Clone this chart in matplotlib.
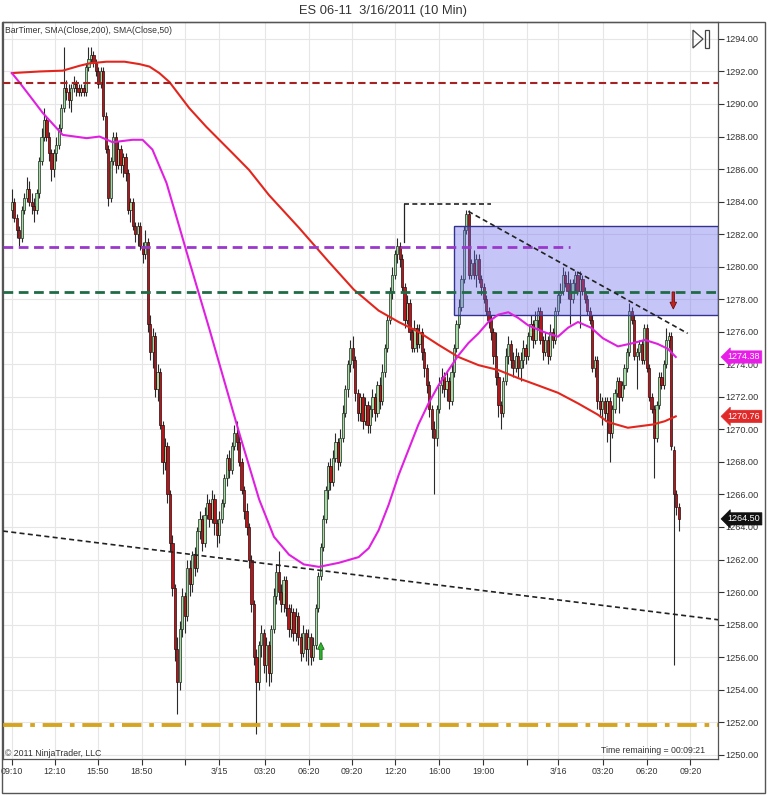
import matplotlib
matplotlib.use('Agg')
import matplotlib.pyplot as plt
import matplotlib.transforms as mtransforms
from matplotlib.patches import Rectangle, FancyArrow, Polygon
import numpy as np

plt.rcParams['font.family'] = ['Liberation Sans', 'DejaVu Sans']

# ---------------- data (10-minute bars, ES 06-11) ----------------
opens = [
    1283.5, 1284.0, 1283.0, 1282.25, 1281.75, 1283.5, 1284.25, 1284.75, 1284.0, 1283.75,
    1283.5, 1284.5, 1286.5, 1288.0, 1289.0, 1288.0, 1287.0, 1286.0, 1287.0, 1287.5,
    1288.5, 1289.75, 1291.0, 1290.75, 1290.25, 1291.0, 1291.25, 1291.0, 1290.75, 1291.0,
    1290.75, 1292.25, 1292.75, 1293.0, 1292.5, 1292.0, 1291.25, 1292.0, 1289.25, 1287.25,
    1284.25, 1286.5, 1288.0, 1286.25, 1287.25, 1286.25, 1286.75, 1285.75, 1283.5, 1284.0,
    1282.5, 1282.0, 1282.5, 1281.25, 1280.75, 1281.5, 1276.5, 1274.75, 1275.75, 1272.5,
    1273.5, 1270.25, 1268.0, 1269.0, 1266.0, 1263.0, 1260.25, 1256.5, 1254.5, 1257.75,
    1259.75, 1258.5, 1261.5, 1260.5, 1262.25, 1261.5, 1263.75, 1264.5, 1263.0, 1264.75,
    1265.5, 1264.5, 1265.75, 1264.25, 1263.5, 1264.5, 1265.5, 1267.0, 1268.25, 1267.5,
    1269.0, 1269.75, 1269.25, 1268.0, 1266.25, 1265.0, 1264.0, 1262.0, 1259.25, 1256.0,
    1254.5, 1256.75, 1257.5, 1255.5, 1256.75, 1255.0, 1257.75, 1259.75, 1261.25, 1260.0,
    1259.25, 1260.75, 1259.0, 1257.75, 1258.75, 1257.5, 1258.5, 1257.25, 1256.25, 1257.5,
    1256.5, 1257.25, 1256.0, 1256.75, 1259.0, 1261.0, 1262.75, 1264.5, 1266.25, 1267.75,
    1266.75, 1268.25, 1269.25, 1268.0, 1269.5, 1271.0, 1272.5, 1274.0, 1275.0, 1274.25,
    1272.25, 1271.0, 1272.0, 1270.5, 1271.5, 1270.25, 1271.25, 1272.0, 1271.0, 1272.75,
    1271.75, 1273.5, 1275.0, 1276.75, 1278.5, 1279.5, 1280.75, 1281.25, 1280.5, 1278.75,
    1276.75, 1277.75, 1276.0, 1275.0, 1276.25, 1275.25, 1276.0, 1274.75, 1273.75, 1272.75,
    1271.25, 1270.0, 1269.5, 1271.25, 1272.75, 1273.25, 1272.5, 1273.0, 1271.75, 1273.5,
    1275.0, 1276.5, 1277.5, 1279.25, 1282.25, 1283.25, 1279.5, 1280.25, 1279.5, 1280.5,
    1279.25, 1278.75, 1278.0, 1277.25, 1276.75, 1276.0, 1274.5, 1273.25, 1271.5, 1271.0,
    1273.0, 1274.5, 1275.25, 1274.25, 1273.75, 1274.5, 1273.75, 1274.25, 1275.0, 1274.5,
    1275.75, 1276.5, 1275.5, 1276.75, 1277.25, 1275.5, 1274.75, 1275.5, 1274.5, 1276.0,
    1275.5, 1277.25, 1278.25, 1278.5, 1279.5, 1279.0, 1278.5, 1278.0, 1279.0, 1279.5,
    1278.5, 1279.25, 1278.5, 1278.0, 1277.25, 1276.75, 1273.75, 1274.25, 1271.75, 1271.25,
    1271.75, 1271.0, 1271.75, 1269.75, 1271.25, 1272.25, 1273.0, 1272.0, 1272.75, 1273.75,
    1274.75, 1277.25, 1276.75, 1274.5, 1274.75, 1275.25, 1274.25, 1276.25, 1273.75, 1272.0,
    1271.25, 1269.5, 1271.5, 1273.25, 1272.75, 1274.0, 1275.5, 1275.75, 1268.75, 1266.0,
    1265.25]

highs = [
    1284.75, 1284.25, 1283.25, 1282.5, 1283.75, 1284.5, 1285.5, 1285.25, 1284.5, 1284.25,
    1284.75, 1286.75, 1288.5, 1289.75, 1289.25, 1288.25, 1287.25, 1287.25, 1288.0, 1288.75,
    1290.0, 1293.5, 1291.5, 1291.25, 1291.25, 1291.75, 1291.5, 1291.25, 1291.25, 1291.25,
    1292.5, 1293.5, 1293.5, 1293.25, 1292.75, 1292.25, 1292.25, 1292.25, 1289.5, 1287.5,
    1286.75, 1288.25, 1288.25, 1287.75, 1287.5, 1287.0, 1287.0, 1286.0, 1284.25, 1284.25,
    1282.75, 1282.75, 1282.75, 1281.5, 1282.25, 1281.75, 1277.0, 1276.25, 1276.0, 1274.0,
    1273.75, 1270.5, 1269.5, 1269.25, 1266.25, 1263.5, 1260.5, 1257.25, 1258.25, 1260.25,
    1260.0, 1262.0, 1262.0, 1262.5, 1262.75, 1264.0, 1265.0, 1264.75, 1265.25, 1266.0,
    1265.75, 1266.25, 1266.0, 1264.5, 1265.0, 1265.75, 1267.25, 1268.5, 1268.75, 1269.25,
    1270.25, 1270.5, 1269.75, 1268.25, 1266.5, 1265.5, 1264.25, 1262.25, 1259.5, 1256.5,
    1257.0, 1258.0, 1257.75, 1257.25, 1257.0, 1258.0, 1260.25, 1261.75, 1262.5, 1260.5,
    1261.0, 1261.0, 1259.25, 1259.25, 1259.0, 1259.0, 1258.75, 1257.5, 1258.0, 1257.75,
    1257.75, 1257.5, 1257.25, 1259.25, 1261.25, 1263.0, 1264.75, 1266.5, 1268.0, 1268.25,
    1268.75, 1269.75, 1269.5, 1270.0, 1271.5, 1272.75, 1274.25, 1275.5, 1275.75, 1274.5,
    1272.5, 1272.25, 1272.25, 1272.0, 1271.75, 1271.5, 1272.5, 1272.25, 1273.0, 1273.25,
    1274.0, 1275.25, 1277.0, 1278.75, 1280.0, 1281.0, 1281.75, 1281.5, 1280.75, 1279.0,
    1278.25, 1278.0, 1276.25, 1276.75, 1276.5, 1276.5, 1276.25, 1275.0, 1274.0, 1273.0,
    1271.5, 1270.5, 1271.5, 1273.25, 1273.75, 1273.5, 1273.5, 1273.25, 1274.0, 1275.25,
    1276.75, 1278.0, 1279.5, 1282.5, 1283.5, 1283.5, 1280.5, 1281.0, 1280.75, 1280.75,
    1279.5, 1279.0, 1278.25, 1277.5, 1277.0, 1276.25, 1276.0, 1273.5, 1271.75, 1273.25,
    1275.0, 1275.75, 1275.5, 1274.75, 1275.0, 1274.75, 1274.75, 1275.5, 1275.25, 1276.0,
    1277.0, 1276.75, 1277.25, 1277.5, 1277.5, 1275.75, 1276.0, 1275.75, 1276.5, 1276.25,
    1277.5, 1278.5, 1279.0, 1280.0, 1279.75, 1279.75, 1279.25, 1279.25, 1279.75, 1279.75,
    1279.75, 1279.5, 1278.75, 1278.25, 1277.5, 1277.0, 1274.5, 1274.5, 1272.25, 1272.0,
    1272.0, 1272.0, 1272.0, 1271.5, 1272.5, 1273.25, 1273.25, 1273.0, 1274.0, 1275.0,
    1277.75, 1277.5, 1277.0, 1275.0, 1275.5, 1275.5, 1276.5, 1276.5, 1274.0, 1272.25,
    1271.5, 1271.75, 1273.5, 1273.5, 1274.25, 1276.25, 1276.0, 1276.0, 1269.0, 1266.25,
    1265.5]

lows = [
    1283.0, 1282.75, 1281.75, 1281.25, 1281.5, 1283.25, 1284.0, 1283.75, 1283.25, 1282.75,
    1283.25, 1284.25, 1286.25, 1287.75, 1287.75, 1286.5, 1285.25, 1285.5, 1286.5, 1287.25,
    1288.25, 1289.5, 1290.25, 1289.75, 1289.5, 1290.75, 1290.5, 1290.5, 1290.5, 1290.5,
    1290.5, 1292.0, 1292.5, 1292.25, 1291.75, 1291.0, 1291.0, 1289.0, 1287.0, 1283.75,
    1284.0, 1286.25, 1285.75, 1286.0, 1285.75, 1285.5, 1285.25, 1283.25, 1282.75, 1282.25,
    1281.5, 1281.25, 1281.0, 1280.25, 1280.5, 1276.0, 1274.25, 1273.75, 1272.0, 1271.75,
    1270.0, 1267.25, 1267.5, 1265.5, 1262.5, 1259.75, 1255.75, 1252.5, 1254.0, 1257.25,
    1257.5, 1258.25, 1259.75, 1260.0, 1261.0, 1261.25, 1263.25, 1262.5, 1262.75, 1264.5,
    1264.0, 1264.25, 1263.5, 1262.75, 1263.0, 1264.25, 1265.25, 1266.5, 1267.0, 1267.25,
    1268.75, 1268.75, 1267.75, 1266.0, 1264.5, 1263.5, 1261.5, 1258.75, 1255.5, 1251.25,
    1254.0, 1256.0, 1255.0, 1254.5, 1254.25, 1254.5, 1257.5, 1259.25, 1259.5, 1258.75,
    1258.75, 1258.5, 1257.25, 1257.25, 1257.0, 1257.0, 1256.75, 1255.75, 1256.0, 1255.75,
    1255.5, 1255.5, 1255.75, 1256.5, 1258.75, 1260.75, 1262.5, 1264.25, 1265.75, 1266.25,
    1266.5, 1268.0, 1267.5, 1267.75, 1269.25, 1270.75, 1272.0, 1273.5, 1273.75, 1271.75,
    1270.5, 1270.5, 1270.0, 1270.25, 1269.75, 1269.75, 1270.75, 1270.5, 1270.75, 1271.25,
    1271.5, 1273.25, 1274.75, 1276.5, 1278.0, 1279.25, 1280.25, 1280.0, 1278.5, 1276.25,
    1276.5, 1275.5, 1274.75, 1274.75, 1274.75, 1275.0, 1274.25, 1273.25, 1272.25, 1270.75,
    1269.5, 1266.0, 1269.0, 1271.0, 1272.25, 1272.0, 1271.75, 1271.25, 1271.5, 1273.25,
    1274.75, 1276.25, 1277.25, 1279.0, 1282.0, 1279.25, 1279.25, 1279.25, 1278.75, 1279.0,
    1278.25, 1277.75, 1277.0, 1276.25, 1275.5, 1274.0, 1272.75, 1270.75, 1270.0, 1270.75,
    1272.75, 1274.0, 1273.75, 1273.25, 1273.5, 1273.25, 1273.0, 1273.75, 1274.0, 1274.25,
    1275.5, 1275.0, 1275.25, 1276.25, 1275.25, 1274.25, 1274.5, 1274.0, 1274.25, 1275.0,
    1275.25, 1277.0, 1277.75, 1278.25, 1278.75, 1278.0, 1276.5, 1277.75, 1278.5, 1278.25,
    1276.25, 1278.25, 1277.75, 1277.0, 1276.5, 1273.5, 1273.25, 1271.25, 1270.75, 1270.25,
    1270.5, 1269.25, 1268.0, 1269.5, 1271.0, 1272.0, 1271.0, 1271.75, 1272.5, 1273.5,
    1274.5, 1276.5, 1274.25, 1272.5, 1274.25, 1274.0, 1274.0, 1273.5, 1271.75, 1271.0,
    1267.0, 1269.25, 1271.25, 1272.5, 1272.5, 1273.75, 1275.0, 1268.75, 1255.5, 1264.75,
    1263.75]

closes = [
    1284.0, 1283.0, 1282.25, 1281.75, 1283.5, 1284.25, 1284.75, 1284.0, 1283.75, 1283.5,
    1284.5, 1286.5, 1288.0, 1289.0, 1288.0, 1287.0, 1286.0, 1287.0, 1287.5, 1288.5,
    1289.75, 1291.0, 1290.75, 1290.25, 1291.0, 1291.25, 1291.0, 1290.75, 1291.0, 1290.75,
    1292.25, 1292.75, 1293.0, 1292.5, 1292.0, 1291.25, 1292.0, 1289.25, 1287.25, 1284.25,
    1286.5, 1288.0, 1286.25, 1287.25, 1286.25, 1286.75, 1285.75, 1283.5, 1284.0, 1282.5,
    1282.0, 1282.5, 1281.25, 1280.75, 1281.5, 1276.5, 1274.75, 1275.75, 1272.5, 1273.5,
    1270.25, 1268.0, 1269.0, 1266.0, 1263.0, 1260.25, 1256.5, 1254.5, 1257.75, 1259.75,
    1258.5, 1261.5, 1260.5, 1262.25, 1261.5, 1263.75, 1264.5, 1263.0, 1264.75, 1265.5,
    1264.5, 1265.75, 1264.25, 1263.5, 1264.5, 1265.5, 1267.0, 1268.25, 1267.5, 1269.0,
    1269.75, 1269.25, 1268.0, 1266.25, 1265.0, 1264.0, 1262.0, 1259.25, 1256.0, 1254.5,
    1256.75, 1257.5, 1255.5, 1256.75, 1255.0, 1257.75, 1259.75, 1261.25, 1260.0, 1259.25,
    1260.75, 1259.0, 1257.75, 1258.75, 1257.5, 1258.5, 1257.25, 1256.25, 1257.5, 1256.5,
    1257.25, 1256.0, 1256.75, 1259.0, 1261.0, 1262.75, 1264.5, 1266.25, 1267.75, 1266.75,
    1268.25, 1269.25, 1268.0, 1269.5, 1271.0, 1272.5, 1274.0, 1275.0, 1274.25, 1272.25,
    1271.0, 1272.0, 1270.5, 1271.5, 1270.25, 1271.25, 1272.0, 1271.0, 1272.75, 1271.75,
    1273.5, 1275.0, 1276.75, 1278.5, 1279.5, 1280.75, 1281.25, 1280.5, 1278.75, 1276.75,
    1277.75, 1276.0, 1275.0, 1276.25, 1275.25, 1276.0, 1274.75, 1273.75, 1272.75, 1271.25,
    1270.0, 1269.5, 1271.25, 1272.75, 1273.25, 1272.5, 1273.0, 1271.75, 1273.5, 1275.0,
    1276.5, 1277.5, 1279.25, 1282.25, 1283.25, 1279.5, 1280.25, 1279.5, 1280.5, 1279.25,
    1278.75, 1278.0, 1277.25, 1276.75, 1276.0, 1274.5, 1273.25, 1271.5, 1271.0, 1273.0,
    1274.5, 1275.25, 1274.25, 1273.75, 1274.5, 1273.75, 1274.25, 1275.0, 1274.5, 1275.75,
    1276.5, 1275.5, 1276.75, 1277.25, 1275.5, 1274.75, 1275.5, 1274.5, 1276.0, 1275.5,
    1277.25, 1278.25, 1278.5, 1279.5, 1279.0, 1278.5, 1278.0, 1279.0, 1279.5, 1278.5,
    1279.25, 1278.5, 1278.0, 1277.25, 1276.75, 1273.75, 1274.25, 1271.75, 1271.25, 1271.75,
    1271.0, 1271.75, 1269.75, 1271.25, 1272.25, 1273.0, 1272.0, 1272.75, 1273.75, 1274.75,
    1277.25, 1276.75, 1274.5, 1274.75, 1275.25, 1274.25, 1276.25, 1273.75, 1272.0, 1271.25,
    1269.5, 1271.5, 1273.25, 1272.75, 1274.0, 1275.5, 1275.75, 1269.0, 1266.0, 1265.25,
    1264.5]

# SMA(Close,200) (bar index, value)
sma200_x = [0, 11.3, 20.6, 27.4, 31.5, 38.3, 45.6, 51.7, 55.7, 59.7, 63.8, 67.8, 71.8,
            78.7, 89.2, 96, 104.1, 116.2, 128.3, 138.4, 148.5, 156.6, 164.6, 172.7,
            180.8, 188.9, 196.9, 205, 213.1, 221.1, 229.2, 237.3, 241.3, 249.4, 259.5,
            264.3, 268.8]
sma200_y = [1291.9, 1292.0, 1292.05, 1292.35, 1292.5, 1292.6, 1292.6, 1292.45, 1292.3,
            1291.9, 1291.35, 1290.55, 1289.75, 1288.6, 1287.0, 1285.95, 1284.4, 1282.4,
            1280.3, 1278.6, 1277.3, 1276.6, 1276.0, 1275.2, 1274.45, 1273.95, 1273.65,
            1273.15, 1272.7, 1272.25, 1271.6, 1270.9, 1270.45, 1270.1, 1270.3, 1270.5,
            1270.8]

# SMA(Close,50) (bar index, value)
sma50_x = [0, 3.2, 8.5, 12.5, 18.2, 20.6, 30.3, 35.5, 40.8, 48.8, 52.9, 56.9, 62.6,
           67.8, 71.8, 79.9, 92, 100.1, 106.1, 112.2, 118.2, 124.3, 132.4, 140.4, 144.5,
           148.5, 152.5, 156.6, 160.6, 164.6, 168.7, 172.7, 176.8, 180.8, 184.8, 188.9,
           192.9, 196.9, 201, 205, 209, 215.1, 221.1, 225.2, 229.2, 234.5, 239.3, 245.4,
           251.4, 256.3, 261.5, 265.6, 268.8]
sma50_y = [1291.9, 1291.3, 1290.25, 1289.45, 1288.5, 1288.1, 1287.9, 1288.0, 1287.65,
           1287.8, 1287.8, 1287.2, 1285.15, 1282.45, 1280.35, 1276.2, 1269.8, 1265.7,
           1263.4, 1262.3, 1261.7, 1261.55, 1261.8, 1262.15, 1262.7, 1263.8, 1265.35,
           1267.2, 1268.75, 1270.3, 1271.6, 1272.7, 1273.65, 1274.55, 1275.3, 1275.9,
           1276.6, 1277.05, 1277.2, 1276.85, 1276.4, 1276.0, 1275.7, 1276.25, 1276.6,
           1276.25, 1275.6, 1275.1, 1275.3, 1275.5, 1275.25, 1274.95, 1274.45]

# drawing objects on the chart
level_darkred = 1291.3
level_purple = 1281.2
level_purple_end = 226
level_green = 1278.45
level_gold = 1251.85
level_black = 1283.85
level_black_span = [158.6, 194.1]
level_black_drop = 1281.5
trend_long_x = [-3.6, 285.9]
trend_long_y = [1263.75, 1258.3]
trend_short_x = [184.8, 273.6]
trend_short_y = [1283.4, 1275.9]
zone_x = [179.2, 285.9]
zone_y = [1277.0, 1282.5]
arrow_up_x, arrow_up_y = 125.1, 1255.85
arrow_down_x, arrow_down_y = 267.8, 1278.45

price_markers = [(1274.45, '1274.38', '#e81ee8'),
                 (1270.8, '1270.76', '#e02a2a'),
                 (1264.5, '1264.50', '#111111')]

tick_pos = [-0.1, 17.35, 34.8, 52.7, 70.2, 83.9, 102.4, 120.3, 137.7, 155.2, 173.1,
            190.9, 208.6, 221.1, 239.3, 257.2, 274.7]
tick_labels = ['09:10', '12:10', '15:50', '18:50', '', '3/15', '03:20', '06:20', '09:20',
               '12:20', '16:00', '19:00', '', '3/16', '03:20', '06:20', '09:20']

XLIM = (-3.6, 285.9)
YLIM = (1249.74, 1295.04)

# ---------------- figure ----------------
fig = plt.figure(figsize=(7.68, 7.95), dpi=100)
fig.patch.set_facecolor('white')
ax = fig.add_axes([3 / 768, 1 - 759 / 795, 715 / 768, 737 / 795])
ax.set_xlim(*XLIM)
ax.set_ylim(*YLIM)

o = np.array(opens)
h = np.array(highs)
l = np.array(lows)
c = np.array(closes)
idx = np.arange(len(c))
up = c >= o

ax.vlines(idx, l, h, color='#2a2a2a', lw=0.8, zorder=2)
bb = np.minimum(o, c)
bh = np.maximum(np.abs(c - o), 0.08)
ax.bar(idx[up], bh[up], bottom=bb[up], width=0.9, color='#a4dba4',
       edgecolor='#1d2b1d', linewidth=0.5, zorder=3)
ax.bar(idx[~up], bh[~up], bottom=bb[~up], width=0.9, color='#b5161c',
       edgecolor='#2a0a0a', linewidth=0.5, zorder=3)

# zone rectangle (semi transparent over candles)
ax.add_patch(Rectangle((zone_x[0], zone_y[0]), zone_x[1] - zone_x[0], zone_y[1] - zone_y[0],
                       facecolor='#6868ee', alpha=0.38, edgecolor='none', zorder=4))
ax.add_patch(Rectangle((zone_x[0], zone_y[0]), zone_x[1] - zone_x[0], zone_y[1] - zone_y[0],
                       facecolor='none', edgecolor='#33338f', lw=1.0, zorder=4))

# moving averages
ax.plot(sma200_x, sma200_y, color='#e2261e', lw=1.5, zorder=5)
ax.plot(sma50_x, sma50_y, color='#e020e0', lw=1.5, zorder=5)

# horizontal levels
ax.plot(XLIM, [level_darkred] * 2, color='#a52222', lw=1.5, ls=(0, (3.5, 2)), zorder=6)
ax.plot([XLIM[0], level_purple_end], [level_purple] * 2, color='#9a38cc', lw=2.0,
        ls=(0, (3.5, 2)), zorder=6)
ax.plot(XLIM, [level_green] * 2, color='#1f6b45', lw=2.0, ls=(0, (3.5, 2)), zorder=6)
ax.plot(XLIM, [level_gold] * 2, color='#d6a520', lw=2.8, ls=(0, (5, 2, 1.2, 2)), zorder=6)
ax.plot(level_black_span, [level_black] * 2, color='#222222', lw=1.2, ls=(0, (3, 2)), zorder=6)
ax.plot([level_black_span[0]] * 2, [level_black, level_black_drop], color='#222222',
        lw=0.9, zorder=6)

# trend lines
ax.plot(trend_long_x, trend_long_y, color='#222222', lw=1.2, ls=(0, (3, 2)), zorder=6)
ax.plot(trend_short_x, trend_short_y, color='#222222', lw=1.2, ls=(0, (3, 2)), zorder=6)

# signal arrows
ax.add_patch(FancyArrow(arrow_up_x, arrow_up_y, 0, 1.05, width=1.0, head_width=2.7,
                        head_length=0.42, length_includes_head=True,
                        facecolor='#2fb52f', edgecolor='#1c6a1c', lw=0.6, zorder=7))
ax.add_patch(FancyArrow(arrow_down_x, arrow_down_y, 0, -1.05, width=1.0, head_width=2.7,
                        head_length=0.42, length_includes_head=True,
                        facecolor='#c2231f', edgecolor='#6a1010', lw=0.6, zorder=7))

# axes styling
ax.yaxis.tick_right()
yt = np.arange(1250, 1295, 2)
ax.set_yticks(yt)
ax.set_yticklabels([f'{v:.2f}' for v in yt])
ax.set_xticks(tick_pos)
ax.set_xticklabels(tick_labels)
ax.tick_params(axis='y', direction='out', length=4, width=0.8, labelsize=6.6,
               colors='#333333', pad=1.5)
ax.tick_params(axis='x', direction='out', length=4, width=0.8, labelsize=6.4,
               colors='#333333', pad=2)
ax.grid(True, color='#e6e6e6', lw=0.8)
ax.set_axisbelow(True)
for s in ax.spines.values():
    s.set_color('#555555')
    s.set_linewidth(0.9)

# price markers on the right axis
trans = mtransforms.blended_transform_factory(ax.transAxes, ax.transData)
for val, txt, col in price_markers:
    ax.text(1.0135, val, txt, transform=trans, ha='left', va='center', fontsize=6.5,
            color='white', clip_on=False, zorder=10,
            bbox=dict(boxstyle='larrow,pad=0.18', fc=col, ec=col, lw=0.5))

# texts
ax.text(0.003, 0.9878, 'BarTimer, SMA(Close,200), SMA(Close,50)', transform=ax.transAxes,
        ha='left', va='center', fontsize=6.2, color='#333333')
ax.text(0.003, 0.0075, '\u00a9 2011 NinjaTrader, LLC', transform=ax.transAxes,
        ha='left', va='center', fontsize=6.3, color='#333333')
ax.text(0.982, 0.0115, 'Time remaining = 00:09:21', transform=ax.transAxes,
        ha='right', va='center', fontsize=6.3, color='#333333')
fig.text(0.4987, 1 - 11 / 795, 'ES 06-11  3/16/2011 (10 Min)', ha='center', va='center',
         fontsize=9.3, color='#333333')

# small "go to end" icon
ax.add_patch(Polygon([[0.965, 0.989], [0.965, 0.9647], [0.979, 0.977]], closed=True,
                     transform=ax.transAxes, fill=False, ec='#444444', lw=0.9, zorder=8))
ax.add_patch(Rectangle((0.9815, 0.9647), 0.0055, 0.0243, transform=ax.transAxes,
                       fill=False, ec='#444444', lw=0.9, zorder=8))

# outer frame
fig.patches.append(Rectangle((2 / 768, 2 / 795), 763 / 768, 771 / 795,
                             transform=fig.transFigure, fill=False, ec='#555555', lw=1.0))

fig.savefig('out.png', dpi=100)
